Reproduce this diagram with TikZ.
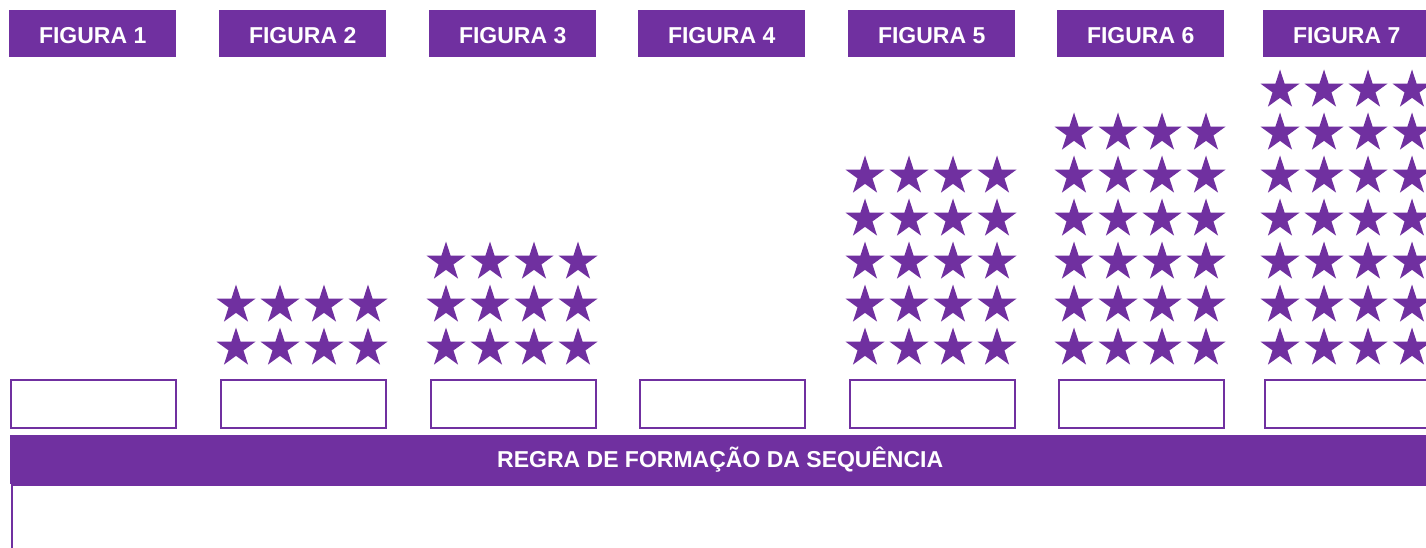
\documentclass[tikz,border=0pt]{standalone}
\usepackage{fontspec}
\setmainfont{Liberation Sans}
\definecolor{roxo}{HTML}{7030A0}
\tikzset{
  header/.style={fill=roxo, draw=none, minimum width=167pt, minimum height=47pt, inner sep=0pt, anchor=north west},
  htext/.style={text=white, font=\bfseries\fontsize{23}{23}\selectfont, text height=16.5pt, text depth=0pt, inner sep=0pt},
  answerbox/.style={draw=roxo, line width=2pt, fill=white, minimum width=165pt, minimum height=48pt, inner sep=0pt, anchor=north west},
  estrela/.pic={\fill[roxo] (90:20.5pt) -- (126:7.83pt) -- (162:20.5pt) -- (198:7.83pt) -- (234:20.5pt) -- (270:7.83pt) -- (306:20.5pt) -- (342:7.83pt) -- (18:20.5pt) -- (54:7.83pt) -- cycle;}
}
\begin{document}
\begin{tikzpicture}[x=1pt,y=-1pt]
\useasboundingbox (0,0) rectangle (1426,548);
\clip (0,0) rectangle (1426,548);
\fill[white] (0,0) rectangle (1426,548);
% headers and answer boxes
\foreach \n/\L in {1/9,2/219,3/429,4/638,5/848,6/1057,7/1263} {
  \node[header] (h\n) at (\L,10) {};
  \node[htext] (t\n) at ([yshift=-1.5pt]h\n.center) {FIGURA \n};
  \node[answerbox] (b\n) at (\L+1,379) {};
}
% stars
\foreach \L/\rows in {219/2,429/3,848/5,1057/6,1263/7} {
  \foreach \c in {0,...,3} {
    \foreach \r in {1,...,\rows} {
      \pic at ({\L+17+44*\c},{348-43*(\r-1)}) {estrela};
    }
  }
}
% rule bar and box
\node[fill=roxo, minimum width=1420pt, minimum height=49pt, inner sep=0pt, anchor=north west] (bar) at (10,435) {};
\node[htext] (bartext) at (bar.center) {REGRA DE FORMAÇÃO DA SEQUÊNCIA};
\node[draw=roxo, line width=2pt, minimum width=1418pt, minimum height=100pt, inner sep=0pt, anchor=north west] (rulebox) at (11,484) {};
\end{tikzpicture}
\end{document}
